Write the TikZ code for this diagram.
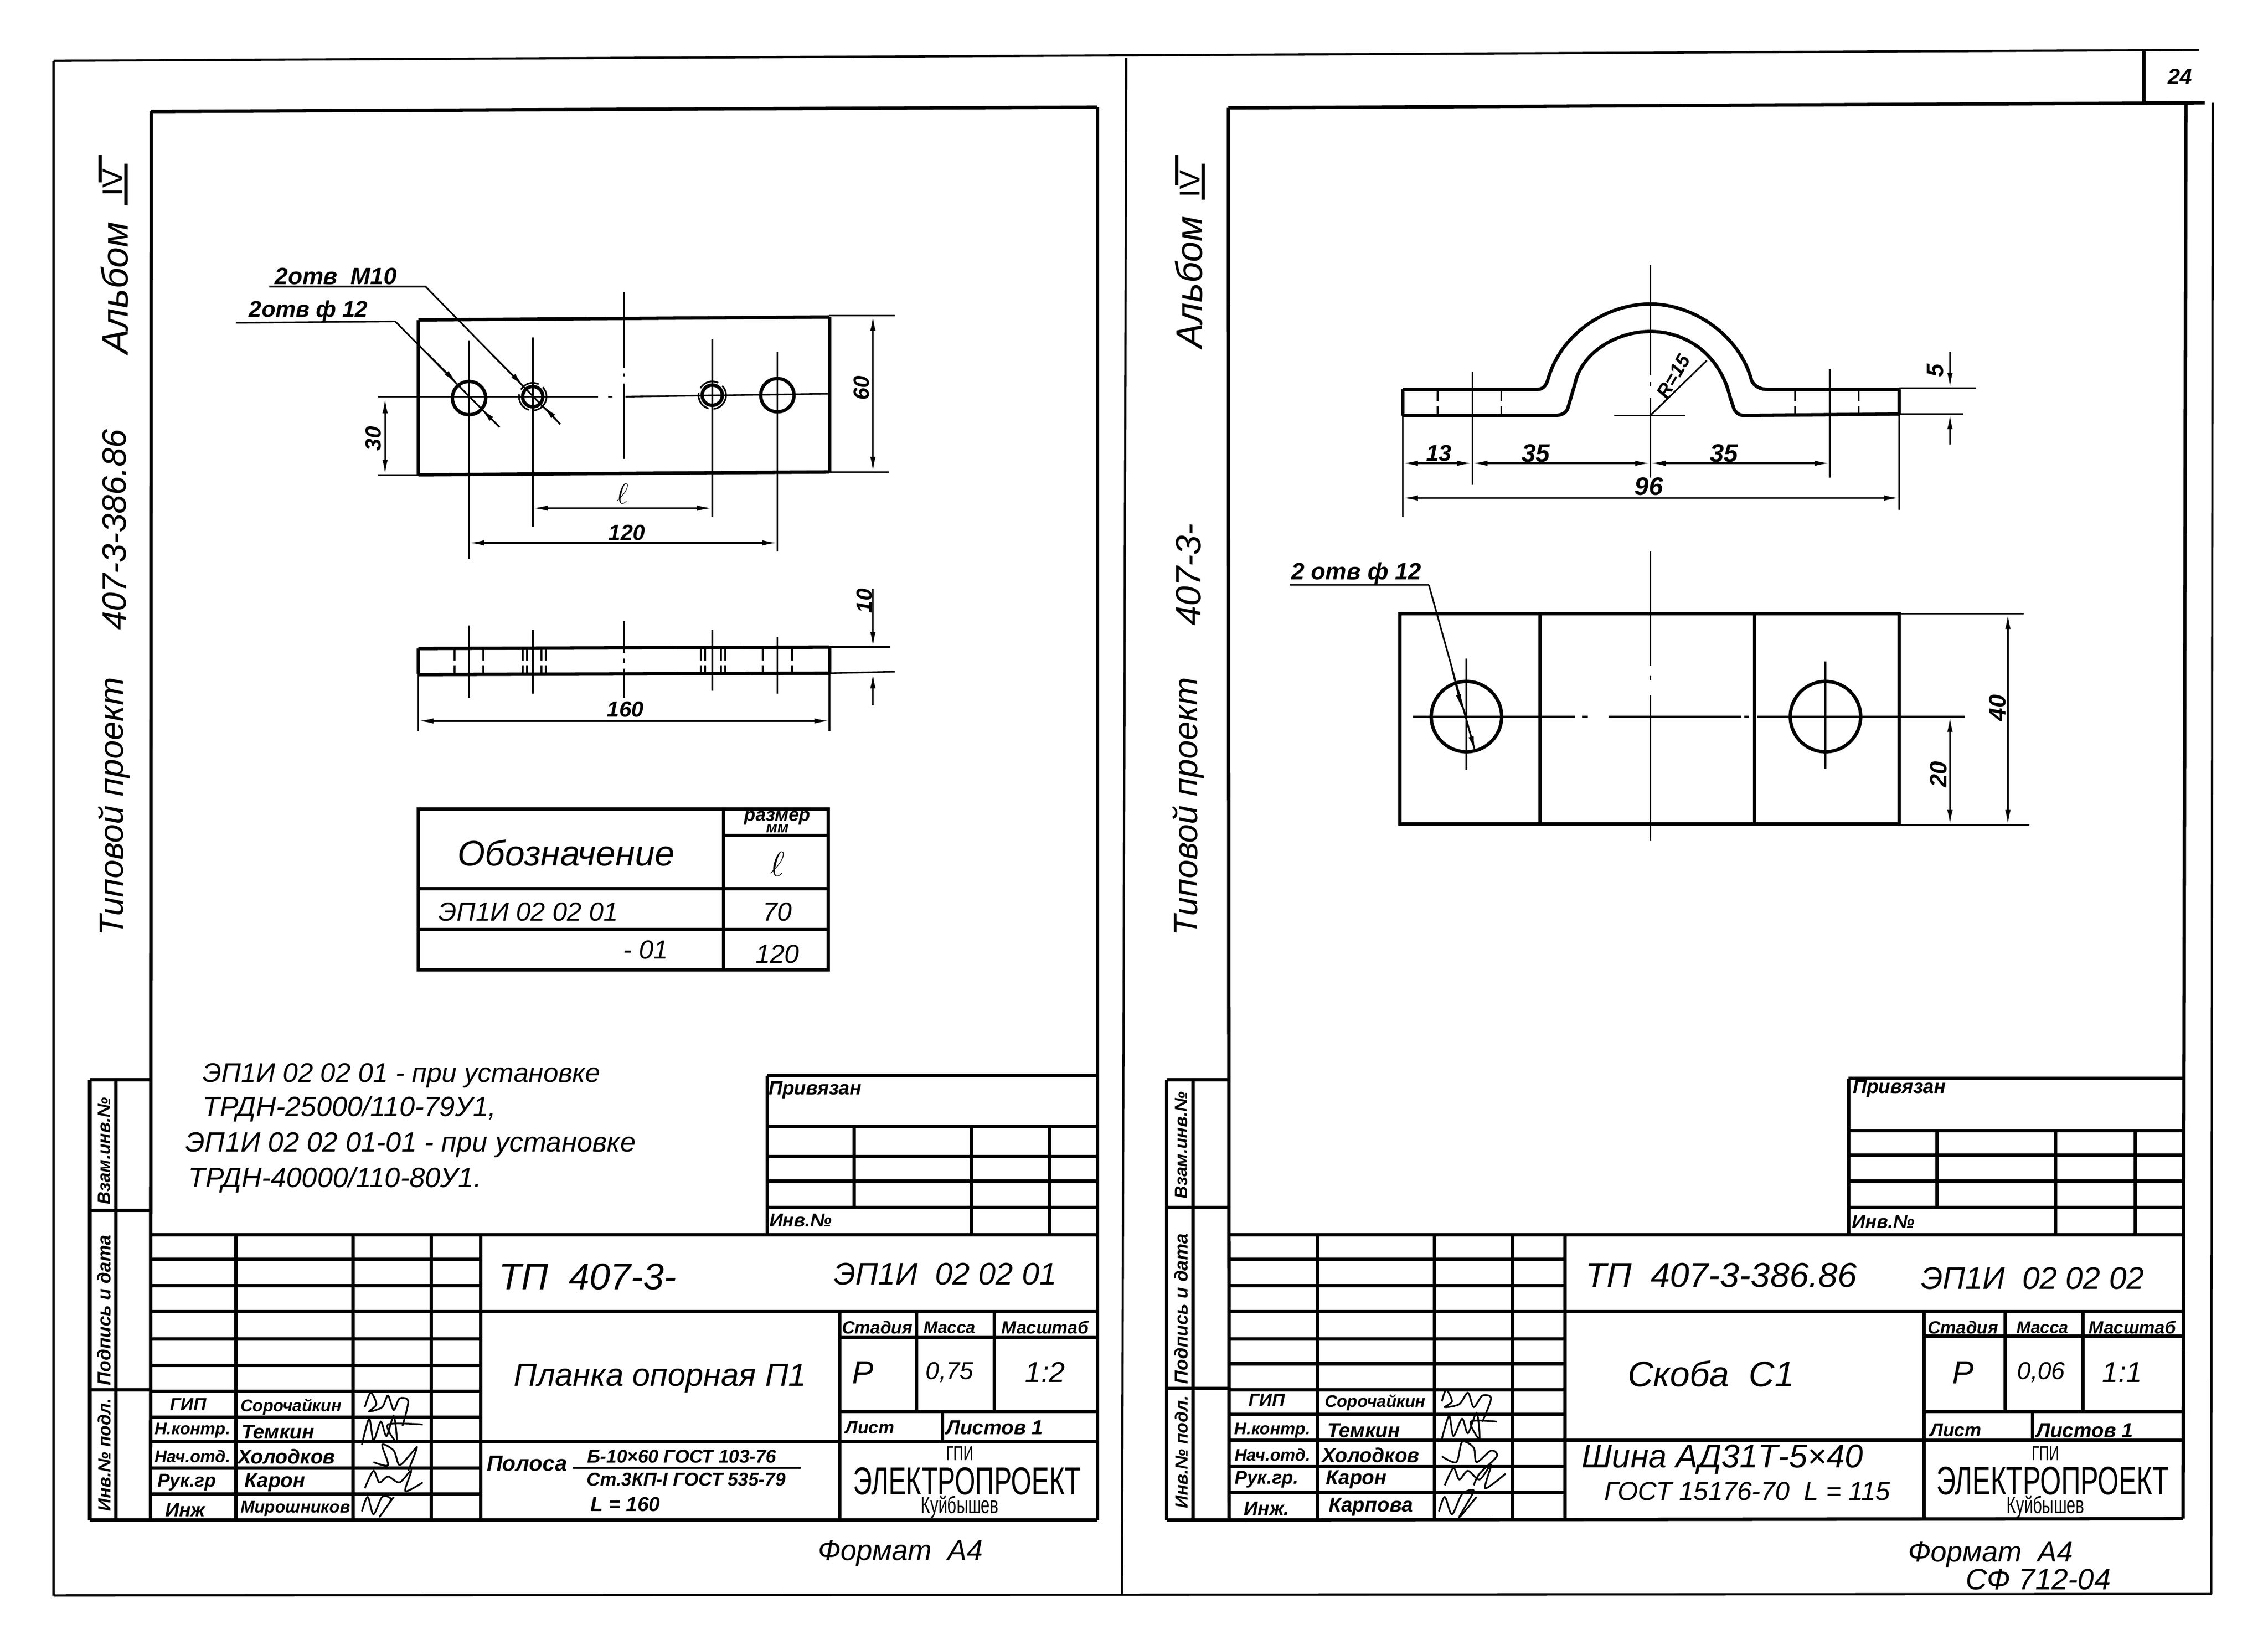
\documentclass[tikz,border=0pt]{standalone}
\usepackage{amsmath}
\usepackage{fontspec}
\setmainfont{Liberation Sans}
\newfontfamily\logofont[FakeStretch=0.68]{Liberation Sans}
\usetikzlibrary{arrows.meta}
\tikzset{
  bold/.style={line width=2pt},
  frameline/.style={line width=1.3pt},
  fine/.style={line width=0.95pt},
  hid/.style={line width=1.1pt,dash pattern=on 7pt off 3pt},
  sign/.style={line width=1pt},
  txt/.style={inner sep=0pt,font=\itshape\fontsize{#1}{#1}\selectfont},
  txtb/.style={inner sep=0pt,font=\bfseries\itshape\fontsize{#1}{#1}\selectfont},
  logo/.style={inner sep=0pt,font=\logofont\fontsize{#1}{#1}\selectfont}
}
\begin{document}
\begin{tikzpicture} [x=0.3016mm,y=-0.3016mm,>={Latex[length=9pt,width=3.2pt]}]
\useasboundingbox (0,0) rectangle (1566.7,1136);
% sheet border
\draw [frameline](37,42) -- (1519,34.5);
\draw [frameline](37,42) -- (37,1102);
\draw [frameline](37,1102) -- (1528,1101);
\draw [frameline](778,40) -- (775,1102);
\draw [frameline](1528.5,71) -- (1527.5,1101);
\draw [bold](1481,35) -- (1481,71);
\draw [bold](848.5,74.5) -- (1523,71);
\draw [bold](1510,71) -- (1508,1049);
\node [txtb=13] (pagenum) at (1506,53) {24};
% left sheet frame
\draw [bold](104.5,77) -- (758,74);
\draw [bold](758,74) -- (758,1050);
\draw [bold](104.5,77) -- (104,1050);
\draw [bold](62,1050) -- (758,1050);
\draw [bold](62,746) -- (104,746);
\draw [bold](62,836) -- (104,836);
\draw [bold](62,960) -- (104,960);
\draw [bold](62,746) -- (62,1050);
\draw [bold](80,746) -- (80,1050);
\node [txtb=10.5,rotate=90] (vzamL) at (72,795) {Взам.инв.№};
\node [txtb=11,rotate=90] (podpL) at (72,905) {Подпись и дата};
\node [txtb=10.5,rotate=90] (invL) at (72,1005) {Инв.№ подл.};
% side labels, left
\node [txt=20,rotate=90] (typL) at (79,557) {Типовой проект};
\node [txt=20,rotate=90] (projL) at (79,366) {407-3-386.86};
\node [txt=22,rotate=90] (albL) at (79,199) {Альбом};
\node [font=\fontsize{17}{17}\selectfont,inner sep=0pt,rotate=90] (romL) at (78,126) {IV};
\draw [bold](69,107) -- (69,126);
\draw [bold](87,113) -- (87,142);
% left title block
\draw [bold](104,853) -- (758,853);
\draw [bold](104,870) -- (332,870);
\draw [bold](104,888) -- (332,888);
\draw [bold](104,906) -- (758,906);
\draw [bold](104,925) -- (332,925);
\draw [bold](104,943) -- (332,943);
\draw [bold](104,961) -- (332,961);
\draw [bold](104,979) -- (332,979);
\draw [bold](104,996) -- (758,996);
\draw [bold](104,1014) -- (332,1014);
\draw [bold](104,1032) -- (332,1032);
\draw [bold](163,853) -- (163,1050);
\draw [bold](244,853) -- (244,1050);
\draw [bold](298,853) -- (298,1050);
\draw [bold](332,853) -- (332,1050);
\draw [bold](580,906) -- (580,1050);
\draw [bold](580,924) -- (758,924);
\draw [bold](580,975) -- (758,975);
\draw [bold](633,906) -- (633,975);
\draw [bold](687,906) -- (687,975);
\draw [bold](651,975) -- (651,996);
% left small table
\draw [bold](530,743) -- (758,743);
\draw [bold](530,778) -- (758,778);
\draw [bold](530,799) -- (758,799);
\draw [bold](530,816) -- (758,816);
\draw [bold](530,834) -- (758,834);
\draw [bold](530,743) -- (530,853);
\draw [bold](590,778) -- (590,834);
\draw [bold](671,778) -- (671,853);
\draw [bold](725,778) -- (725,853);
\node [txtb=11.5] (bindL) at (563,753) {Привязан};
\node [txtb=11] (invnL) at (553,843) {Инв.№};
% left title texts
\node [txt=22] (tpL) at (406,882) {ТП\ \ 407-3-};
\node [txt=18.5] (codeL) at (653,880) {ЭП1И\ \ 02 02 01};
\node [txt=19] (nameL) at (456,952) {Планка опорная П1};
\node [txtb=10.5] (stL) at (606,917) {Стадия};
\node [txtb=10] (msL) at (656,917) {Масса};
\node [txtb=10.5] (scL) at (722,917) {Масштаб};
\node [txt=19] (stvL) at (596,948) {Р};
\node [txt=14.5] (msvL) at (656,948) {0,75};
\node [txt=17] (scvL) at (722,948) {1:2};
\node [txtb=10.5] (shL) at (601,986) {Лист};
\node [txtb=12] (shsL) at (687,986) {Листов 1};
\node [txtb=13] (matL) at (364,1011) {Полоса};
\node [txtb=11] (matupL) at (471,1006) {Б-10×60 ГОСТ 103-76};
\draw [fine](396,1014) -- (553,1014);
\node [txtb=11] (matdnL) at (474,1022) {Ст.3КП-I ГОСТ 535-79};
\node [txtb=12] (lenL) at (432,1039) {L = 160};
\node [logo=12] (gpiL) at (663,1004) {ГПИ};
\node [logo=23] (elL) at (668,1023) {ЭЛЕКТРОПРОЕКТ};
\node [logo=14] (kuL) at (663,1041) {Куйбышев};
\node [txtb=10.5] (r1aL) at (130,970) {ГИП};
\node [txtb=10] (r1bL) at (201,972) {Сорочайкин};
\node [txtb=10] (r2aL) at (133,988) {Н.контр.};
\node [txtb=12] (r2bL) at (192,989) {Темкин};
\node [txtb=10] (r3aL) at (133,1006) {Нач.отд.};
\node [txtb=12] (r3bL) at (198,1006) {Холодков};
\node [txtb=11] (r4aL) at (129,1024) {Рук.гр};
\node [txtb=12] (r4bL) at (190,1024) {Карон};
\node [txtb=11.5] (r5aL) at (128,1043) {Инж};
\node [txtb=10] (r5bL) at (204,1042) {Мирошников};
\draw [sign] plot [smooth] coordinates {(252,972) (256,962) (260,970) (255,975) (264,972) (268,964) (272,974) (276,966) (282,968) (278,985)};
\draw [sign] plot [smooth] coordinates {(250,998) (255,980) (258,995) (263,982) (267,992) (272,978) (274,996) (268,984) (292,984)};
\draw [sign] plot [smooth] coordinates {(258,1010) (268,1012) (264,998) (272,1002) (276,1012) (284,1004) (288,1000) (282,1016)};
\draw [sign] plot [smooth] coordinates {(252,1028) (258,1016) (262,1024) (268,1020) (276,1024) (284,1016) (280,1030) (292,1024)};
\draw [sign] plot [smooth] coordinates {(250,1044) (254,1034) (258,1046) (264,1034) (270,1036) (262,1048) (272,1034)};
\node [txt=17] (fmtL) at (622,1073) {Формат\ \ А4};
% notes
\node [txt=16,anchor=west] (note1) at (140,743) {ЭП1И 02 02 01 - при установке};
\node [txt=16.5,anchor=west] (note2) at (140,766) {ТРДН-25000/110-79У1,};
\node [txt=16.5,anchor=west] (note3) at (128,791) {ЭП1И 02 02 01-01 - при установке};
\node [txt=16.5,anchor=west] (note4) at (130,815) {ТРДН-40000/110-80У1.};
% plate, front view
\draw [bold](289,221) -- (573,219);
\draw [bold](289,328) -- (573,326);
\draw [bold](289,221) -- (289,328);
\draw [bold](573,219) -- (573,326);
\draw [bold](324,275) circle (11.5);
\draw [bold](537,273) circle (11.5);
\draw [bold](368,274) circle (7);
\draw [bold](492,273) circle (7);
\draw [fine,dash pattern=on 12pt off 3pt](368,274) circle (9.5);
\draw [fine,dash pattern=on 12pt off 3pt](492,273) circle (9.5);
\draw [fine](431,202) -- (431,254);
\draw [fine](431,258) -- (431,260);
\draw [fine](431,265) -- (431,317);
\draw [fine](261,274) -- (413,274);
\draw [fine](420,274) -- (423,274);
\draw [fine](432,274) -- (573,272);
\draw [fine](324,235) -- (324,386);
\draw [fine](368,233) -- (368,364);
\draw [fine](492,234) -- (492,357);
\draw [fine](537,243) -- (537,381);
\draw [fine](573,218) -- (618,218);
\draw [fine](573,326) -- (614,326);
\draw [fine](261,328) -- (289,328);
\draw [fine,<->](603,218) -- (603,326);
\draw [fine,<->](266,275) -- (266,328);
\draw [fine,<->](368,351) -- (492,351);
\draw [fine,<->](324,375) -- (537,375);
\node [txtb=13,rotate=90] (dim60) at (595,268) {60};
\node [txtb=13,rotate=90] (dim30) at (258,303) {30};
\node [inner sep=0pt,font=\bfseries\fontsize{19}{19}\selectfont] (diml) at (430,341) {$\ell$};
\node [txtb=13] (dim120) at (433,368) {120};
% leaders, left sheet
\node [txtb=14] (holeM) at (232,191) {2отв\ \ М10};
\node [txtb=13.5] (holeD) at (213,215) {2отв ф 12};
\draw [fine](186,198) -- (294,198);
\draw [fine](294,198) -- (387,293);
\draw [fine,->](340,245) -- (362,267);
\draw [fine,->](387,293) -- (375,280);
\draw [fine](163,223) -- (273,222);
\draw [fine](273,222) -- (345,295);
\draw [fine,->](295,244) -- (316,265);
\draw [fine,->](345,295) -- (332,282);
% plate, side view
\draw [bold](289,448) -- (573,447);
\draw [bold](289,466) -- (573,465);
\draw [bold](289,448) -- (289,466);
\draw [bold](573,447) -- (573,465);
\draw [fine](324,432) -- (324,482);
\draw [fine](368,435) -- (368,479);
\draw [fine](431,429) -- (431,451);
\draw [fine](431,455) -- (431,458);
\draw [fine](431,462) -- (431,482);
\draw [fine](492,435) -- (492,477);
\draw [fine](537,440) -- (537,479);
\draw [hid](314,448) -- (314,466);
\draw [hid](334,448) -- (334,466);
\draw [hid](361,448) -- (361,466);
\draw [hid](364,448) -- (364,466);
\draw [hid](374,448) -- (374,466);
\draw [hid](377,448) -- (377,466);
\draw [hid](484,448) -- (484,466);
\draw [hid](487,448) -- (487,466);
\draw [hid](498,448) -- (498,466);
\draw [hid](501,448) -- (501,466);
\draw [hid](527,448) -- (527,466);
\draw [hid](547,448) -- (547,466);
\draw [fine](289,466) -- (289,505);
\draw [fine](573,465) -- (573,505);
\draw [fine](573,447) -- (615,447);
\draw [fine](573,465) -- (618,464);
\draw [fine,<->](289,498) -- (573,498);
\draw [fine,->](603,407) -- (603,447);
\draw [fine,->](603,487) -- (603,465);
\node [txtb=13,rotate=90] (dim10) at (597,415) {10};
\node [txtb=13] (dim160) at (432,490) {160};
% table of sizes
\draw [bold](289,559) rectangle (572,670);
\draw [bold](500,559) -- (500,670);
\draw [bold](500,577) -- (572,577);
\draw [bold](289,614) -- (572,614);
\draw [bold](289,642) -- (572,642);
\node [txt=21] (tabh) at (391,589) {Обозначение};
\node [txtb=11] (tabr) at (537,565) {размер};
\node [txtb=9] (tabm) at (537,572.5) {мм};
\node [inner sep=0pt,font=\bfseries\fontsize{22}{22}\selectfont] (tabl) at (537,597) {$\ell$};
\node [txt=15.5] (tabc) at (365,630) {ЭП1И 02 02 01};
\node [txt=15.5] (tabd) at (446,656) {- 01};
\node [txt=15.5] (tab70) at (537,630) {70};
\node [txt=15.5] (tab120) at (537,659) {120};
% right sheet frame
\draw [bold](848.5,74.5) -- (849,1050);
\draw [bold](806,1050) -- (1508,1049);
\draw [bold](806,746) -- (849,746);
\draw [bold](806,834) -- (849,834);
\draw [bold](806,959) -- (849,959);
\draw [bold](806,746) -- (806,1050);
\draw [bold](824,746) -- (824,1050);
\node [txtb=10.5,rotate=90] (vzamR) at (816,791) {Взам.инв.№};
\node [txtb=11,rotate=90] (podpR) at (816,904) {Подпись и дата};
\node [txtb=10.5,rotate=90] (invR) at (816,1003) {Инв.№ подл.};
% side labels, right
\node [txt=20,rotate=90] (typR) at (821,557) {Типовой проект};
\node [txt=21,rotate=90] (projR) at (821,397) {407-3-};
\node [txt=22,rotate=90] (albR) at (821,195) {Альбом};
\node [font=\fontsize{17}{17}\selectfont,inner sep=0pt,rotate=90] (romR) at (822,127) {IV};
\draw [bold](813,107) -- (813,128);
\draw [bold](831,113) -- (831,138);
% right title block
\draw [bold](849,853) -- (1509,853);
\draw [bold](849,870) -- (1081,870);
\draw [bold](849,888) -- (1081,888);
\draw [bold](849,906) -- (1509,906);
\draw [bold](849,925) -- (1081,925);
\draw [bold](849,942) -- (1081,942);
\draw [bold](849,960) -- (1081,960);
\draw [bold](849,977) -- (1081,977);
\draw [bold](849,995) -- (1509,995);
\draw [bold](849,1013) -- (1081,1013);
\draw [bold](849,1031) -- (1081,1031);
\draw [bold](910,853) -- (910,1050);
\draw [bold](991,853) -- (991,1050);
\draw [bold](1045,853) -- (1045,1050);
\draw [bold](1081,853) -- (1081,1050);
\draw [bold](1329,906) -- (1329,1050);
\draw [bold](1329,923) -- (1509,923);
\draw [bold](1329,975) -- (1509,975);
\draw [bold](1385,906) -- (1385,975);
\draw [bold](1439,906) -- (1439,975);
\draw [bold](1404,975) -- (1404,995);
% right small table
\draw [bold](1277,745) -- (1509,745);
\draw [bold](1277,781) -- (1509,781);
\draw [bold](1277,798) -- (1509,798);
\draw [bold](1277,816) -- (1509,816);
\draw [bold](1277,834) -- (1509,834);
\draw [bold](1277,745) -- (1277,853);
\draw [bold](1338,781) -- (1338,834);
\draw [bold](1420,781) -- (1420,853);
\draw [bold](1475,781) -- (1475,853);
\node [txtb=11.5] (bindR) at (1312,752) {Привязан};
\node [txtb=11] (invnR) at (1301,844) {Инв.№};
% right title texts
\node [txt=20.5] (tpR) at (1189,881) {ТП\ \ 407-3-386.86};
\node [txt=18.5] (codeR) at (1404,883) {ЭП1И\ \ 02 02 02};
\node [txt=21] (nameR) at (1182,949) {Скоба\ \ С1};
\node [txtb=10.5] (stR) at (1356,917) {Стадия};
\node [txtb=10] (msR) at (1411,917) {Масса};
\node [txtb=10.5] (scR) at (1473,917) {Масштаб};
\node [txt=19] (stvR) at (1356,948) {Р};
\node [txt=14.5] (msvR) at (1410,948) {0,06};
\node [txt=17] (scvR) at (1466,948) {1:1};
\node [txtb=11] (shR) at (1351,988) {Лист};
\node [txtb=12] (shsR) at (1440,988) {Листов 1};
\node [txt=19.5] (matupR) at (1190,1008) {Шина АД31Т-5×40};
\node [txt=15.5] (matdnR) at (1207,1030) {ГОСТ 15176-70\ \ L = 115};
\node [logo=12] (gpiR) at (1413,1004) {ГПИ};
\node [logo=23.5] (elR) at (1418,1023) {ЭЛЕКТРОПРОЕКТ};
\node [logo=14] (kuR) at (1413,1041) {Куйбышев};
\node [txtb=10.5] (r1aR) at (875,967) {ГИП};
\node [txtb=10] (r1bR) at (950,969) {Сорочайкин};
\node [txtb=10] (r2aR) at (879,988) {Н.контр.};
\node [txtb=12] (r2bR) at (942,988) {Темкин};
\node [txtb=10] (r3aR) at (879,1005) {Нач.отд.};
\node [txtb=12] (r3bR) at (947,1005) {Холодков};
\node [txtb=11] (r4aR) at (875,1022) {Рук.гр.};
\node [txtb=12] (r4bR) at (937,1022) {Карон};
\node [txtb=11.5] (r5aR) at (875,1042) {Инж.};
\node [txtb=12] (r5bR) at (947,1041) {Карпова};
\draw [sign] plot [smooth] coordinates {(996,968) (999,960) (1003,968) (998,972) (1008,970) (1014,962) (1018,972) (1024,964) (1030,966) (1024,982)};
\draw [sign] plot [smooth] coordinates {(996,994) (1001,978) (1004,992) (1010,980) (1014,990) (1020,976) (1022,994) (1016,982) (1034,982)};
\draw [sign] plot [smooth] coordinates {(996,1006) (1006,1010) (1010,996) (1018,1000) (1020,1010) (1030,1002) (1034,1006) (1022,1018) (1018,1026)};
\draw [sign] plot [smooth] coordinates {(998,1026) (1004,1014) (1008,1022) (1014,1016) (1022,1022) (1030,1012) (1026,1028) (1040,1018)};
\draw [sign] plot [smooth] coordinates {(994,1044) (998,1034) (1003,1046) (1010,1032) (1018,1030) (1008,1048) (1020,1034)};
\node [txt=17] (fmtR) at (1375,1074) {Формат\ \ А4};
\node [txt=17.5] (sfR) at (1408,1091) {СФ 712-04};
% bracket, front view
\draw [bold](969,269) -- (1062,269) .. controls (1066,269) and (1068,266) .. (1069,263) .. controls (1078,230) and (1110,210) .. (1140,210) .. controls (1170,210) and (1202,232) .. (1210,263) .. controls (1212,267) and (1216,269) .. (1221,269) -- (1312,269);
\draw [bold](969,287) -- (1074,287) .. controls (1079,287) and (1082,285) .. (1083,282) -- (1088,265) .. controls (1092,245) and (1115,229) .. (1140,229) .. controls (1165,229) and (1188,245) .. (1195,274) -- (1198,283) .. controls (1200,286) and (1202,287) .. (1205,287) -- (1312,286);
\draw [bold](969,269) -- (969,287);
\draw [bold](1312,269) -- (1312,286);
\draw [fine](1140,183) -- (1140,259);
\draw [fine](1140,264) -- (1140,267);
\draw [fine](1140,275) -- (1140,330);
\draw [fine](1115,287) -- (1164,287);
\draw [fine](1140,287) -- (1179,249);
\draw [fine](1017,257) -- (1017,335);
\draw [fine](1264,255) -- (1264,330);
\draw [hid](993,269) -- (993,287);
\draw [hid](1037,269) -- (1037,287);
\draw [hid](1240,269) -- (1240,287);
\draw [hid](1284,269) -- (1284,287);
\draw [fine](969,287) -- (969,357);
\draw [fine](1312,286) -- (1312,352);
\draw [fine](1312,268) -- (1365,268);
\draw [fine](1312,286) -- (1356,286);
\draw [fine,<->](969,320) -- (1017,320);
\draw [fine,<->](1017,320) -- (1140,320);
\draw [fine,<->](1140,320) -- (1264,320);
\draw [fine,<->](969,344) -- (1312,344);
\draw [fine,->](1347,243) -- (1347,268);
\draw [fine,->](1347,307) -- (1347,286);
\node [txtb=13.5] (dim13) at (994,313) {13};
\node [txtb=15] (dim35a) at (1061,313) {35};
\node [txtb=15] (dim35b) at (1191,313) {35};
\node [txtb=15] (dim96) at (1139,336) {96};
\node [txtb=11.5,rotate=60] (dimR) at (1156,260) {R=15};
\node [txtb=14,rotate=90] (dim5) at (1337,256) {5};
% bracket, plan view
\draw [bold](967,424) rectangle (1312,569);
\draw [bold](1064,424) -- (1064,569);
\draw [bold](1212,424) -- (1212,569);
\draw [bold](1013,495) circle (24.3);
\draw [bold](1261,495) circle (24.3);
\draw [fine](1140,381) -- (1140,460);
\draw [fine](1140,467) -- (1140,470);
\draw [fine](1140,480) -- (1140,581);
\draw [fine](976,495) -- (1088,495);
\draw [fine](1093,495) -- (1097,495);
\draw [fine](1111,495) -- (1203,495);
\draw [fine](1205,495) -- (1208,495);
\draw [fine](1214,495) -- (1357,495);
\draw [fine](1013,455) -- (1013,532);
\draw [fine](1261,457) -- (1261,531);
\draw [fine](1312,424) -- (1398,424);
\draw [fine](1312,570) -- (1402,570);
\draw [fine,<->](1387,424) -- (1387,570);
\draw [fine,<->](1347,495) -- (1347,570);
\node [txtb=14,rotate=90] (dim40) at (1380,489) {40};
\node [txtb=14,rotate=90] (dim20) at (1339,535) {20};
\node [txtb=14] (holeR) at (937,396) {2 отв ф 12};
\draw [fine](891,404) -- (987,404);
\draw [fine](987,404) -- (1019,519);
\draw [fine,->](1003,462) -- (1010,490);
\draw [fine,->](1011,490) -- (1019,519);
\end{tikzpicture}
\end{document}
